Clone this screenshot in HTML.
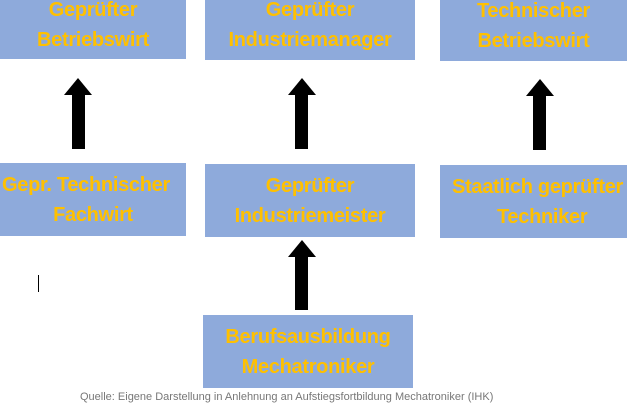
<!DOCTYPE html>
<html><head><meta charset="utf-8"><style>
html,body{margin:0;padding:0;background:#fff;}
body{width:627px;height:400px;position:relative;overflow:hidden;font-family:"Liberation Sans",sans-serif;}
.b{position:absolute;background:#8eaadb;color:#ffc000;font-weight:bold;font-size:20px;line-height:30px;text-align:center;display:flex;flex-direction:column;justify-content:center;white-space:nowrap;overflow:hidden;letter-spacing:-0.3px;}
.s{position:absolute;background:#000;width:13px;}
.h{position:absolute;width:0;height:0;border-left:14px solid transparent;border-right:14px solid transparent;border-bottom:17px solid #000;}
</style></head><body>
<div class="b" style="left:0;top:-10px;width:186px;height:69px;"><span>Geprüfter</span><span>Betriebswirt</span></div>
<div class="b" style="left:205px;top:-10px;width:210px;height:70px;"><span>Geprüfter</span><span>Industriemanager</span></div>
<div class="b" style="left:440px;top:-10px;width:187px;height:71px;"><span>Technischer</span><span>Betriebswirt</span></div>

<div class="b" style="left:0;top:163px;width:186px;height:73px;"><span style="margin-left:-14px">Gepr. Technischer</span><span>Fachwirt</span></div>
<div class="b" style="left:205px;top:164px;width:210px;height:73px;"><span>Geprüfter</span><span>Industriemeister</span></div>
<div class="b" style="left:440px;top:165px;width:187px;height:73px;align-items:flex-start;"><span style="margin-left:12px">Staatlich geprüfter</span><span style="margin-left:57px">Techniker</span></div>

<div class="b" style="left:203px;top:315px;width:210px;height:73px;"><span>Berufsausbildung</span><span>Mechatroniker</span></div>

<div class="h" style="left:64px;top:78px;"></div><div class="s" style="left:72px;top:94px;height:55px;"></div>
<div class="h" style="left:288px;top:78px;"></div><div class="s" style="left:295px;top:94px;height:55px;"></div>
<div class="h" style="left:526px;top:79px;"></div><div class="s" style="left:533px;top:95px;height:55px;"></div>
<div class="h" style="left:288px;top:240px;"></div><div class="s" style="left:295px;top:256px;height:54px;"></div>

<div style="position:absolute;left:38px;top:275px;width:1px;height:17px;background:#000;"></div>
<div style="position:absolute;left:80px;top:390px;color:#777;font-size:11px;line-height:14px;white-space:nowrap;">Quelle: Eigene Darstellung in Anlehnung an Aufstiegsfortbildung Mechatroniker (IHK)</div>
</body></html>
